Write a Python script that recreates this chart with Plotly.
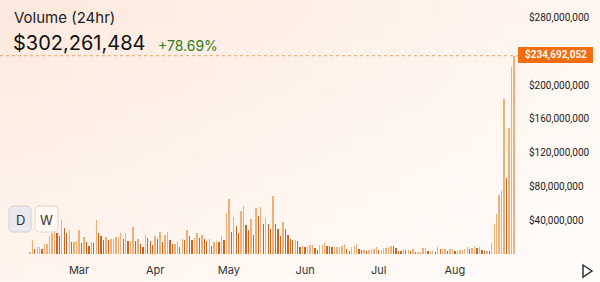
import base64, struct, zlib
import pandas as pd
import plotly.graph_objects as go

# ---------------- data ----------------
start_date = "2024-02-10"
volumes_m = [
    2, 16, 6, 8, 8, 6, 12, 12, 21, 25, 36, 25, 21, 40, 31, 25, 28, 14, 14, 15,
    29, 13, 20, 14, 9, 14, 13, 40, 25, 21, 17, 20, 17, 18, 18, 20, 20, 25, 18, 25,
    15, 15, 32, 15, 18, 12, 8, 23, 19, 15, 11, 21, 18, 26, 14, 23, 26, 17, 12, 12,
    14, 8, 18, 16, 29, 21, 16, 19, 25, 19, 23, 18, 15, 18, 10, 14, 15, 14, 21, 17,
    49, 65, 26, 44,
    33, 25, 51, 57, 34, 29, 42, 22, 54, 45, 56, 35, 43, 36, 30, 69, 35, 30, 21, 38,
    30, 23, 18, 16, 17, 15, 8, 10, 8, 8, 11, 11, 7, 5, 11, 11, 13, 10, 9,
    8, 8, 8, 8, 9, 12, 6, 4, 8, 9, 12, 6, 5, 5, 4, 5, 6, 6, 8, 5,
    5, 7, 7, 8, 10, 9, 7, 4, 3, 6, 5, 5, 4, 6, 2, 2, 2, 7, 7, 3, 4,
    4, 2, 8, 6, 6, 6, 4, 6, 6, 4, 4, 5, 5, 6, 8, 6, 7, 9, 7, 8,
    5, 4, 4, 3, 13, 36, 47, 70, 75, 184, 90, 149, 221, 234.692052,
]
last_volume = 234692052
volume_24h_text = "$302,261,484"
change_text = "+78.69%"
title_text = "Volume (24hr)"
y_tick_values = [40e6, 80e6, 120e6, 160e6, 200e6, 280e6]
y_tick_labels = ["$40,000,000", "$80,000,000", "$120,000,000", "$160,000,000", "$200,000,000", "$280,000,000"]
x_tick_dates = ["2024-03-01", "2024-04-01", "2024-05-01", "2024-06-01", "2024-07-01", "2024-08-01"]

dates = pd.date_range(start_date, periods=len(volumes_m), freq="D")
volumes = [v * 1e6 for v in volumes_m]
volumes[-1] = last_volume

DARK = "#d4621c"
LIGHT = "#f4ad74"
colors = [LIGHT] + [LIGHT if volumes[i] >= volumes[i - 1] else DARK for i in range(1, len(volumes))]

# ---------------- geometry helpers ----------------
W, H = 600, 282
ML, MR, MT, MB = 0, 82, 0, 28
PW, PH = W - ML - MR, H - MT - MB


def px(x):
    return (x - ML) / PW


def py(y):
    return (MT + PH - y) / PH


# ---------------- background gradient image ----------------
def make_png(w, h, fn):
    raw = b""
    for j in range(h):
        row = b"\x00"
        for i in range(w):
            row += bytes(fn(i / (w - 1), j / (h - 1)))
        raw += row

    def chunk(t, d):
        c = struct.pack(">I", len(d)) + t + d
        return c + struct.pack(">I", zlib.crc32(t + d) & 0xFFFFFFFF)

    return (b"\x89PNG\r\n\x1a\n" + chunk(b"IHDR", struct.pack(">IIBBBBB", w, h, 8, 2, 0, 0, 0))
            + chunk(b"IDAT", zlib.compress(raw)) + chunk(b"IEND", b""))


tl, tr, bl, br = (252, 233, 221), (255, 246, 240), (255, 245, 238), (255, 252, 250)


def grad(u, v):
    return tuple(int(round((1 - u) * (1 - v) * a + u * (1 - v) * b + (1 - u) * v * c + u * v * d))
                 for a, b, c, d in zip(tl, tr, bl, br))


bg_src = "data:image/png;base64," + base64.b64encode(make_png(40, 20, grad)).decode()

# ---------------- figure ----------------
fig = go.Figure()
fig.add_trace(go.Bar(
    x=dates, y=volumes, marker=dict(color=colors, line=dict(width=0)),
    width=0.55 * 86400000, hoverinfo="skip", showlegend=False,
))

x0 = pd.Timestamp("2024-03-01") - pd.Timedelta(days=79 / 2.457)
x1 = pd.Timestamp("2024-03-01") + pd.Timedelta(days=(PW - 79) / 2.457)
ymax = PH / 33.8 * 40e6

FONT = "Inter"
TICKFONT = "Roboto"
fig.update_layout(
    width=W, height=H, margin=dict(l=ML, r=MR, t=MT, b=MB),
    paper_bgcolor="white", plot_bgcolor="rgba(0,0,0,0)",
    bargap=0,
    images=[dict(source=bg_src, xref="paper", yref="paper", x=px(0), y=py(0),
                 sizex=px(W) - px(0), sizey=py(0) - py(H), sizing="stretch",
                 xanchor="left", yanchor="top", layer="below")],
    xaxis=dict(range=[x0, x1], type="date", showgrid=False, zeroline=False, showline=False,
               tickvals=pd.to_datetime(x_tick_dates), tickformat="%b",
               ticks="outside", ticklen=6, tickcolor="rgba(0,0,0,0)",
               tickfont=dict(family=FONT, size=11, color="#333333"), fixedrange=True),
    yaxis=dict(range=[0, ymax], side="right", showgrid=False, zeroline=False, showline=False,
               tickvals=y_tick_values, ticktext=y_tick_labels,
               ticks="outside", ticklen=8, tickcolor="rgba(0,0,0,0)",
               tickfont=dict(family=TICKFONT, size=10, color="#222222"), fixedrange=True),
    font=dict(family=FONT),
)

# dotted last-value line
fig.add_shape(type="line", xref="paper", yref="y", x0=px(0), x1=1, y0=last_volume, y1=last_volume,
              line=dict(color="#e9a56b", width=1, dash="dot"))

# last value label
fig.add_shape(type="rect", xref="paper", yref="paper", x0=px(518), x1=px(593), y0=py(63), y1=py(47),
              fillcolor="#f26c10", line=dict(width=0), layer="above")
fig.add_annotation(xref="paper", yref="paper", x=px(556), y=py(55), text=f"${last_volume:,}",
                   showarrow=False, xanchor="center", yanchor="middle",
                   font=dict(family=TICKFONT, size=10, color="white", weight=600))

# title texts
fig.add_annotation(xref="paper", yref="paper", x=px(12), y=py(18), text=title_text, showarrow=False,
                   xanchor="left", yanchor="middle", font=dict(family=FONT, size=15, color="#222222"))
fig.add_annotation(xref="paper", yref="paper", x=px(11), y=py(43), text=volume_24h_text, showarrow=False,
                   xanchor="left", yanchor="middle", font=dict(family=FONT, size=20, color="#111111"))
fig.add_annotation(xref="paper", yref="paper", x=px(156), y=py(45), text=change_text, showarrow=False,
                   xanchor="left", yanchor="middle", font=dict(family=FONT, size=14, color="#2f7d1c"))


# D / W buttons
def rounded(xa, ya, xb, yb, r):
    pts = [
        f"M{px(xa + r)},{py(ya)}", f"L{px(xb - r)},{py(ya)}", f"Q{px(xb)},{py(ya)} {px(xb)},{py(ya + r)}",
        f"L{px(xb)},{py(yb - r)}", f"Q{px(xb)},{py(yb)} {px(xb - r)},{py(yb)}",
        f"L{px(xa + r)},{py(yb)}", f"Q{px(xa)},{py(yb)} {px(xa)},{py(yb - r)}",
        f"L{px(xa)},{py(ya + r)}", f"Q{px(xa)},{py(ya)} {px(xa + r)},{py(ya)}", "Z",
    ]
    return " ".join(pts)


fig.add_shape(type="path", xref="paper", yref="paper", path=rounded(9, 206, 31, 232, 5),
              fillcolor="#ebe8ee", line=dict(color="#d2ced8", width=1))
fig.add_shape(type="path", xref="paper", yref="paper", path=rounded(35, 206, 58, 232, 5),
              fillcolor="rgba(255,250,247,0.85)", line=dict(color="#ddd6d2", width=1))
fig.add_annotation(xref="paper", yref="paper", x=px(20), y=py(219.5), text="D", showarrow=False,
                   xanchor="center", yanchor="middle", font=dict(family=FONT, size=13, color="#333333"))
fig.add_annotation(xref="paper", yref="paper", x=px(46.5), y=py(219.5), text="W", showarrow=False,
                   xanchor="center", yanchor="middle", font=dict(family=FONT, size=13, color="#333333"))

# play icon
fig.add_shape(type="path", xref="paper", yref="paper",
              path=f"M{px(583)},{py(265)} L{px(592)},{py(271)} L{px(583)},{py(277)} Z",
              line=dict(color="#333333", width=1.5), fillcolor="rgba(0,0,0,0)")

fig.write_html("out.html", config={"displayModeBar": False, "staticPlot": True})
